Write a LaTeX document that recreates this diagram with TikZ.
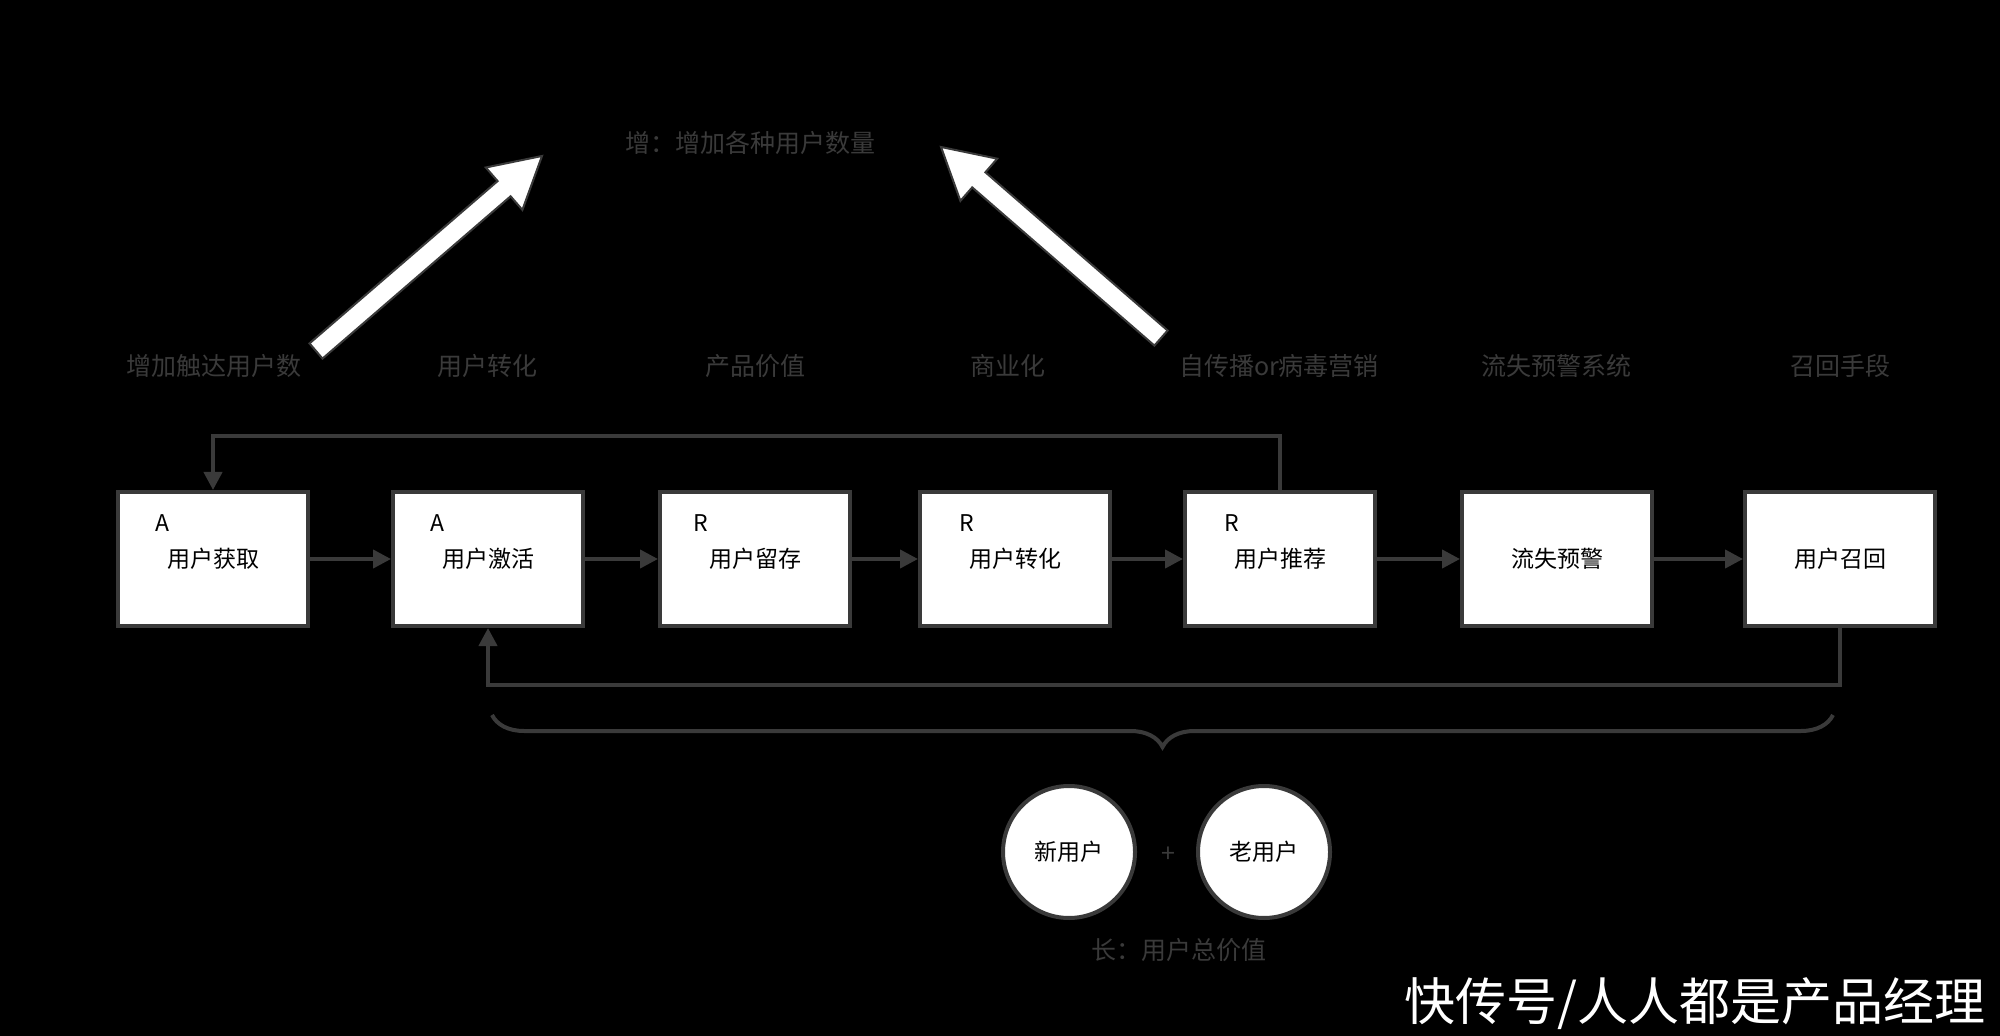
\documentclass[tikz,border=0pt]{standalone}
\usepackage{fontspec}
\setmainfont{Noto Sans CJK SC}
\usetikzlibrary{arrows.meta,decorations.pathreplacing}
\definecolor{ln}{HTML}{3A3A3A}
\begin{document}
\begin{tikzpicture}[x=0.5pt,y=-0.5pt,
 box/.style={draw=ln,line width=2pt,fill=white,minimum width=95pt,minimum height=67pt,inner sep=0pt,font=\fontsize{11.5}{13}\selectfont},
 lab/.style={text=ln,font=\fontsize{12.5}{14}\selectfont},
 con/.style={draw=ln,line width=2pt,-{Triangle[length=9pt,width=9pt]}},
 big/.style={fill=white,draw=ln,line width=1pt,line join=miter}]
\fill[black] (0,0) rectangle (2000,1036);
\useasboundingbox (0,0) rectangle (2000,1036);
\node[box] (b1) at (213,559) {\raisebox{-2pt}{用户获取}};
\node[box] (b2) at (488,559) {\raisebox{-2pt}{用户激活}};
\node[box] (b3) at (755,559) {\raisebox{-2pt}{用户留存}};
\node[box] (b4) at (1015,559) {\raisebox{-2pt}{用户转化}};
\node[box] (b5) at (1280,559) {\raisebox{-2pt}{用户推荐}};
\node[box] (b6) at (1557,559) {\raisebox{-2pt}{流失预警}};
\node[box] (b7) at (1840,559) {\raisebox{-2pt}{用户召回}};
\foreach \b/\l/\dx in {b1/A/16pt,b2/A/16pt,b3/R/14pt,b4/R/17pt,b5/R/17pt}{
 \node[font=\fontsize{11.5}{13}\selectfont,anchor=north west] at ([xshift=\dx,yshift=-9pt]\b.north west) {\l};}
\foreach \a/\b in {b1/b2,b2/b3,b3/b4,b4/b5,b5/b6,b6/b7}{\draw[con] (\a) -- (\b);}
\coordinate (t1) at (1280,436); \coordinate (t2) at (213,436);
\draw[con] (b5.north) -- (t1) -- (t2) -- (b1.north);
\coordinate (u1) at (1840,685); \coordinate (u2) at (488,685);
\draw[con] (b7.south) -- (u1) -- (u2) -- (b2.south);
\coordinate (br1) at (492,715); \coordinate (br2) at (1833,715);
\draw[ln,line width=2pt,decorate,decoration={brace,mirror,amplitude=16pt}] (br1) -- (br2);
\node[lab] (l1) at (214,366) {增加触达用户数};
\node[lab] (l2) at (487,366) {用户转化};
\node[lab] (l3) at (755,366) {产品价值};
\node[lab] (l4) at (1008,366) {商业化};
\node[lab] (l5) at (1279,366) {自传播or病毒营销};
\node[lab] (l6) at (1556,366) {流失预警系统};
\node[lab] (l7) at (1840,366) {召回手段};
\node[lab] (title) at (750,143) {增：增加各种用户数量};
\draw[big] (322.5,358.6) -- (510.6,196.3) -- (522.4,209.9) -- (542,156) -- (485.8,167.5) -- (497.6,181.1) -- (309.5,343.4) -- cycle;
\draw[big] (1167.6,330.5) -- (985.4,172.3) -- (997.2,158.7) -- (941,147) -- (960.4,200.9) -- (972.2,187.4) -- (1154.4,345.6) -- cycle;
\node[circle,draw=ln,line width=2pt,fill=white,minimum size=66pt,font=\fontsize{11.5}{13}\selectfont] (c1) at (1069,852) {新用户};
\node[circle,draw=ln,line width=2pt,fill=white,minimum size=66pt,font=\fontsize{11.5}{13}\selectfont] (c2) at (1264,852) {老用户};
\node[lab] (plus) at (1168,855) {+};
\node[lab] (val) at (1179,950) {长：用户总价值};
\node[text=white,font=\fontsize{25.5}{28}\selectfont] (wm) at (1695,1004) {快传号/人人都是产品经理};
\end{tikzpicture}
\end{document}
